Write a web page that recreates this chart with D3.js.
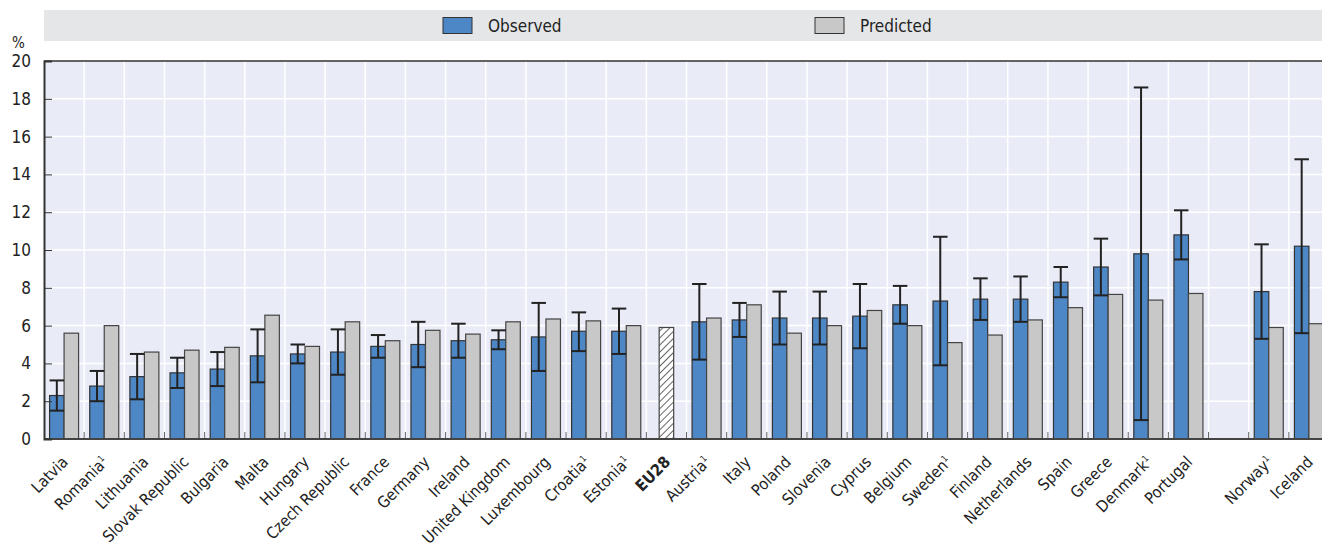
<!DOCTYPE html>
<html>
<head>
<meta charset="utf-8">
<script src="https://cdn.jsdelivr.net/npm/d3@7"></script>
<style>
  body { margin: 0; background: #fff; }
  svg { display: block; font-family: "Liberation Sans Narrow", "DejaVu Sans Condensed", "Roboto", sans-serif; }
</style>
</head>
<body>
<div id="chart"></div>
<script>
// categories ("gap" is the empty slot before Norway)
var countries = ["Latvia","Romania","Lithuania","Slovak Republic","Bulgaria","Malta","Hungary","Czech Republic",
  "France","Germany","Ireland","United Kingdom","Luxembourg","Croatia","Estonia","EU28","Austria","Italy",
  "Poland","Slovenia","Cyprus","Belgium","Sweden","Finland","Netherlands","Spain","Greece","Denmark","Portugal",
  "gap","Norway","Iceland"];
var footnote = ["Romania","Croatia","Estonia","Austria","Sweden","Denmark","Norway"];

var observed  = [2.3,2.8,3.3,3.5,3.7,4.4,4.5,4.6,4.9,5.0,5.2,5.25,5.4,5.7,5.7,null,6.2,6.3,6.4,6.4,6.5,7.1,7.3,7.4,7.4,8.3,9.1,9.8,10.8,null,7.8,10.2];
var lowerCI   = [1.5,2.0,2.1,2.7,2.8,3.0,4.0,3.4,4.3,3.8,4.3,4.75,3.6,4.65,4.5,null,4.2,5.4,5.0,5.0,4.8,6.1,3.9,6.3,6.2,7.5,7.6,1.0,9.5,null,5.3,5.6];
var upperCI   = [3.1,3.6,4.5,4.3,4.6,5.8,5.0,5.8,5.5,6.2,6.1,5.75,7.2,6.7,6.9,null,8.2,7.2,7.8,7.8,8.2,8.1,10.7,8.5,8.6,9.1,10.6,18.6,12.1,null,10.3,14.8];
var predicted = [5.6,6.0,4.6,4.7,4.85,6.55,4.9,6.2,5.2,5.75,5.55,6.2,6.35,6.25,6.0,5.9,6.4,7.1,5.6,6.0,6.8,6.0,5.1,5.5,6.3,6.95,7.65,7.35,7.7,null,5.9,6.1];
var yTicks = [0,2,4,6,8,10,12,14,16,18,20];

var W = 1322, H = 547;
var pLeft = 44, pRight = 1329, pTop = 61, pBottom = 439;

var svg = d3.select("#chart").append("svg")
    .attr("width", W)
    .attr("height", H);

var x = d3.scaleBand().domain(countries).range([pLeft, pRight]);
var y = d3.scaleLinear().domain([0, 20]).range([pBottom, pTop]);
var barW = 14.5;

var defs = svg.append("defs");
var pat = defs.append("pattern")
    .attr("id", "hatch")
    .attr("patternUnits", "userSpaceOnUse")
    .attr("width", 5).attr("height", 5)
    .attr("patternTransform", "rotate(45)");
pat.append("rect").attr("width", 5).attr("height", 5).attr("fill", "#fff");
pat.append("line").attr("x1", 0).attr("y1", 0).attr("x2", 0).attr("y2", 5)
    .attr("stroke", "#222").attr("stroke-width", 1.4);

// legend band
svg.append("rect").attr("x", 44).attr("y", 10).attr("width", W - 44).attr("height", 31).attr("fill", "#e5e6e8");
var legend = [{label: "Observed", fill: "#4e87c6", x: 443}, {label: "Predicted", fill: "#c8c8c8", x: 815}];
legend.forEach(function(l) {
  svg.append("rect").attr("x", l.x).attr("y", 17.5).attr("width", 29).attr("height", 16)
      .attr("fill", l.fill).attr("stroke", "#333").attr("stroke-width", 1);
  svg.append("text").attr("x", l.x + 45).attr("y", 32).attr("font-size", 17).attr("fill", "#222").text(l.label);
});

// plot background
svg.append("rect").attr("x", pLeft).attr("y", pTop).attr("width", pRight - pLeft).attr("height", pBottom - pTop).attr("fill", "#e9ecf7");

// gridlines
svg.append("g").selectAll("line")
  .data(yTicks.slice(1, -1))
  .enter().append("line")
    .attr("x1", pLeft).attr("x2", pRight)
    .attr("y1", function(d) { return y(d); }).attr("y2", function(d) { return y(d); })
    .attr("stroke", "#fff").attr("stroke-width", 1.5);
svg.append("g").selectAll("line")
  .data(countries.slice(1))
  .enter().append("line")
    .attr("x1", function(d) { return x(d); }).attr("x2", function(d) { return x(d); })
    .attr("y1", pTop).attr("y2", pBottom)
    .attr("stroke", "#fff").attr("stroke-width", 1.5);

// bottom ticks between categories
svg.append("g").selectAll("line")
  .data(countries.slice(1))
  .enter().append("line")
    .attr("x1", function(d) { return x(d); }).attr("x2", function(d) { return x(d); })
    .attr("y1", pBottom - 7).attr("y2", pBottom)
    .attr("stroke", "#666").attr("stroke-width", 1);

var idx = d3.range(countries.length);

// observed bars
svg.append("g").selectAll("rect")
  .data(idx.filter(function(i) { return observed[i] != null; }))
  .enter().append("rect")
    .attr("x", function(i) { return x(countries[i]) + x.bandwidth() / 2 - barW; })
    .attr("width", barW)
    .attr("y", function(i) { return y(observed[i]); })
    .attr("height", function(i) { return y(0) - y(observed[i]); })
    .attr("fill", "#4e87c6").attr("stroke", "#333").attr("stroke-width", 1.2);

// predicted bars (EU28 hatched, centred)
svg.append("g").selectAll("rect")
  .data(idx.filter(function(i) { return predicted[i] != null; }))
  .enter().append("rect")
    .attr("x", function(i) {
      var c = x(countries[i]) + x.bandwidth() / 2;
      return countries[i] === "EU28" ? c - barW / 2 : c;
    })
    .attr("width", barW)
    .attr("y", function(i) { return y(predicted[i]); })
    .attr("height", function(i) { return y(0) - y(predicted[i]); })
    .attr("fill", function(i) { return countries[i] === "EU28" ? "url(#hatch)" : "#c8c8c8"; })
    .attr("stroke", "#444").attr("stroke-width", 1.2);

// confidence intervals
var eb = svg.append("g").attr("stroke", "#222").attr("stroke-width", 2);
idx.filter(function(i) { return upperCI[i] != null; }).forEach(function(i) {
  var cx = x(countries[i]) + x.bandwidth() / 2 - barW / 2;
  eb.append("line").attr("x1", cx).attr("x2", cx).attr("y1", y(upperCI[i])).attr("y2", y(lowerCI[i]));
  eb.append("line").attr("x1", cx - barW / 2).attr("x2", cx + barW / 2).attr("y1", y(upperCI[i])).attr("y2", y(upperCI[i]));
  eb.append("line").attr("x1", cx - barW / 2).attr("x2", cx + barW / 2).attr("y1", y(lowerCI[i])).attr("y2", y(lowerCI[i]));
});

// axes frame
svg.append("line").attr("x1", pLeft).attr("x2", pRight).attr("y1", pTop).attr("y2", pTop).attr("stroke", "#333").attr("stroke-width", 1.5);
svg.append("line").attr("x1", pLeft).attr("x2", pRight).attr("y1", pBottom).attr("y2", pBottom).attr("stroke", "#444").attr("stroke-width", 2);

var yAxis = svg.append("g")
    .attr("transform", "translate(" + pLeft + ",0)")
    .call(d3.axisRight(y).tickValues(yTicks).tickSize(8).tickFormat(""));
yAxis.select(".domain").attr("stroke", "#333").attr("stroke-width", 2);
yAxis.selectAll(".tick line").attr("stroke", "#333").attr("stroke-width", 1);
yAxis.selectAll(".tick").filter(function(d) { return d === 0 || d === 20; }).select("line").remove();

svg.append("g").selectAll("text")
  .data(yTicks)
  .enter().append("text")
    .attr("x", 31).attr("y", function(d) { return y(d) + 6; })
    .attr("text-anchor", "end").attr("font-size", 17).attr("fill", "#222")
    .text(function(d) { return d; });
svg.append("text").attr("x", 12).attr("y", 48).attr("font-size", 15).attr("fill", "#222").text("%");

// category labels
var labels = svg.append("g").selectAll("text")
  .data(countries.filter(function(c) { return c !== "gap"; }))
  .enter().append("text")
    .attr("transform", function(c) {
      return "translate(" + (x(c) + x.bandwidth() / 2 + 5) + "," + 463 + ") rotate(-45)";
    })
    .attr("text-anchor", "end")
    .attr("font-size", 16)
    .attr("font-weight", function(c) { return c === "EU28" ? "bold" : "normal"; })
    .attr("fill", "#222");
labels.append("tspan").text(function(c) { return c; });
labels.filter(function(c) { return footnote.indexOf(c) >= 0; })
  .append("tspan").attr("font-size", 9).attr("dy", -6).text("1");
</script>
</body>
</html>
